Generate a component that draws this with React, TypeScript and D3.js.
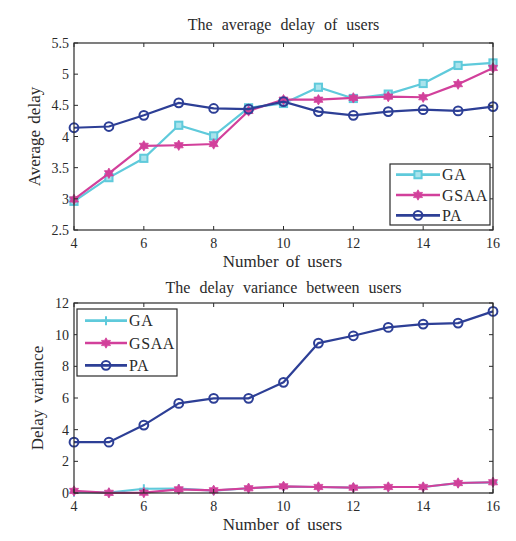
import React from "react";
import * as d3 from "d3";

const users = [4, 5, 6, 7, 8, 9, 10, 11, 12, 13, 14, 15, 16];
const avgGA = [2.96, 3.34, 3.65, 4.18, 4.01, 4.46, 4.53, 4.79, 4.61, 4.68, 4.85, 5.14, 5.18];
const avgGSAA = [2.99, 3.41, 3.85, 3.86, 3.88, 4.41, 4.59, 4.59, 4.62, 4.64, 4.63, 4.84, 5.1];
const avgPA = [4.14, 4.16, 4.34, 4.54, 4.45, 4.44, 4.56, 4.4, 4.34, 4.4, 4.43, 4.41, 4.48];
const varGA = [0.05, 0.02, 0.27, 0.28, 0.15, 0.3, 0.4, 0.38, 0.34, 0.38, 0.38, 0.62, 0.67];
const varGSAA = [0.13, 0.01, 0.02, 0.23, 0.17, 0.3, 0.42, 0.38, 0.34, 0.38, 0.38, 0.63, 0.68];
const varPA = [3.21, 3.21, 4.29, 5.66, 5.98, 5.98, 6.99, 9.47, 9.93, 10.46, 10.67, 10.73, 11.47];
const xTicks = [4, 6, 8, 10, 12, 14, 16];
const avgTicks = [2.5, 3, 3.5, 4, 4.5, 5, 5.5];
const varTicks = [0, 2, 4, 6, 8, 10, 12];
const seriesNames = ["GA", "GSAA", "PA"];

const C_GA = "#5fcadb";
const C_GSAA = "#d2409b";
const C_PA = "#2d3f96";
const FONT = "'Liberation Serif', 'DejaVu Serif', serif";
const INK = "#2a2a2a";

type MarkerKind = "square" | "star" | "circle" | "plus";

function hexagram(r: number, ri: number): string {
  const pts: string[] = [];
  for (let i = 0; i < 12; i++) {
    const a = (Math.PI / 6) * i - Math.PI / 2;
    const rr = i % 2 === 0 ? r : ri;
    pts.push(`${(rr * Math.cos(a)).toFixed(2)},${(rr * Math.sin(a)).toFixed(2)}`);
  }
  return "M" + pts.join("L") + "Z";
}

function Marker({ kind, x, y, color }: { kind: MarkerKind; x: number; y: number; color: string }) {
  if (kind === "square")
    return (
      <rect x={x - 3.6} y={y - 3.6} width={7.2} height={7.2} fill="#a9e3ec" stroke={color} strokeWidth={2} />
    );
  if (kind === "circle")
    return <circle cx={x} cy={y} r={4.4} fill="none" stroke={color} strokeWidth={2} />;
  if (kind === "plus")
    return (
      <path d={`M${x - 4.5},${y}H${x + 4.5}M${x},${y - 4.5}V${y + 4.5}`} stroke={color} strokeWidth={2} />
    );
  return (
    <path d={hexagram(5.2, 3)} transform={`translate(${x},${y})`} fill={color} stroke={color} strokeWidth={0.8} />
  );
}

interface Series {
  values: number[];
  color: string;
  marker: MarkerKind;
}

function Panel({
  top,
  bottom,
  domain,
  yTicks,
  title,
  titleGap,
  ylabel,
  ylabelX,
  series,
  legend,
}: {
  top: number;
  bottom: number;
  domain: [number, number];
  yTicks: number[];
  title: string;
  titleGap: number;
  ylabel: string;
  ylabelX: number;
  series: Series[];
  legend: { x0: number; y0: number; x1: number; y1: number; lineX0: number; lineX1: number };
}) {
  const left = 74;
  const right = 493;
  const x = d3.scaleLinear().domain([4, 16]).range([left, right]);
  const y = d3.scaleLinear().domain(domain).range([bottom, top]);
  const line = d3
    .line<number>()
    .x((_, i) => x(users[i]))
    .y((d) => y(d));
  const tl = 4;
  const rowH = (legend.y1 - legend.y0) / 3;
  return (
    <g>
      <text
        x={(left + right) / 2}
        y={top - titleGap}
        textAnchor="middle"
        fontFamily={FONT}
        fontSize={16}
        fill={INK}
        wordSpacing={5}
      >
        {title}
      </text>
      <rect x={left} y={top} width={right - left} height={bottom - top} fill="#fff" />
      {series.map((s, k) => (
        <g key={k}>
          <path d={line(s.values) || ""} fill="none" stroke={s.color} strokeWidth={2.2} />
          {s.values.map((v, i) => (
            <Marker key={i} kind={s.marker} x={x(users[i])} y={y(v)} color={s.color} />
          ))}
        </g>
      ))}
      <rect x={left} y={top} width={right - left} height={bottom - top} fill="none" stroke={INK} strokeWidth={1.2} />
      {xTicks.map((t) => (
        <g key={t}>
          <line x1={x(t)} x2={x(t)} y1={bottom} y2={bottom - tl} stroke={INK} />
          <line x1={x(t)} x2={x(t)} y1={top} y2={top + tl} stroke={INK} />
          <text x={x(t)} y={bottom + 18} textAnchor="middle" fontFamily={FONT} fontSize={14} fill={INK}>
            {t}
          </text>
        </g>
      ))}
      {yTicks.map((t) => (
        <g key={t}>
          <line x1={left} x2={left + tl} y1={y(t)} y2={y(t)} stroke={INK} />
          <line x1={right} x2={right - tl} y1={y(t)} y2={y(t)} stroke={INK} />
          <text x={left - 5} y={y(t) + 5} textAnchor="end" fontFamily={FONT} fontSize={14} fill={INK}>
            {t}
          </text>
        </g>
      ))}
      <text
        x={(left + right) / 2 - 1}
        y={bottom + 37}
        textAnchor="middle"
        fontFamily={FONT}
        fontSize={17}
        fill={INK}
        wordSpacing={3}
      >
        Number of users
      </text>
      <text
        transform={`translate(${ylabelX},${(top + bottom) / 2}) rotate(-90)`}
        textAnchor="middle"
        fontFamily={FONT}
        fontSize={17}
        fill={INK}
        wordSpacing={2}
      >
        {ylabel}
      </text>
      <rect
        x={legend.x0}
        y={legend.y0}
        width={legend.x1 - legend.x0}
        height={legend.y1 - legend.y0}
        fill="#fff"
        stroke={INK}
        strokeWidth={1.2}
      />
      {series.map((s, k) => {
        const cy = legend.y0 + rowH * (k + 0.5) + 0.5;
        const lx0 = legend.lineX0;
        const lx1 = legend.lineX1;
        return (
          <g key={k}>
            <line x1={lx0} x2={lx1} y1={cy} y2={cy} stroke={s.color} strokeWidth={2.6} />
            <Marker kind={s.marker} x={(lx0 + lx1) / 2} y={cy} color={s.color} />
            <text x={lx1 + 2} y={cy + 5.5} fontFamily={FONT} fontSize={16} letterSpacing={0.6} fill={INK}>
              {seriesNames[k]}
            </text>
          </g>
        );
      })}
    </g>
  );
}

export default function App() {
  return (
    <svg width={516} height={541} style={{ position: "absolute", left: 0, top: 0, background: "#fff" }}>
      <rect width={516} height={541} fill="#fff" />
      <Panel
        top={43}
        bottom={230}
        domain={[2.5, 5.5]}
        yTicks={avgTicks}
        title="The average delay of users"
        titleGap={13}
        ylabel="Average delay"
        ylabelX={40}
        series={[
          { values: avgGA, color: C_GA, marker: "square" },
          { values: avgGSAA, color: C_GSAA, marker: "star" },
          { values: avgPA, color: C_PA, marker: "circle" },
        ]}
        legend={{ x0: 390, y0: 164, x1: 490, y1: 225, lineX0: 396, lineX1: 440 }}
      />
      <Panel
        top={303}
        bottom={493}
        domain={[0, 12]}
        yTicks={varTicks}
        title="The delay variance between users"
        titleGap={10}
        ylabel="Delay variance"
        ylabelX={43}
        series={[
          { values: varGA, color: C_GA, marker: "plus" },
          { values: varGSAA, color: C_GSAA, marker: "star" },
          { values: varPA, color: C_PA, marker: "circle" },
        ]}
        legend={{ x0: 77, y0: 309, x1: 177, y1: 376, lineX0: 85, lineX1: 127 }}
      />
    </svg>
  );
}
